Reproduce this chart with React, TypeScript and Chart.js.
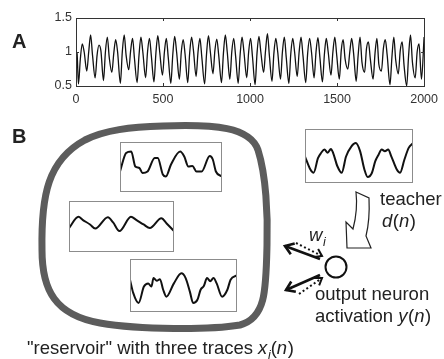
import React, { useEffect, useRef } from "react";
import { Chart, registerables } from "chart.js";
Chart.register(...registerables);

const FONT = '"Liberation Sans", Arial, Helvetica, sans-serif';

// Panel A: time series (time steps, values)
const seriesT = [
  0, 6,
  14, 25, 36, 47, 62, 73, 84, 95, 110, 121, 132, 143, 158, 169, 180, 191,
  206, 217, 228, 239, 255, 266, 277, 288, 303, 314, 325, 336, 351, 362, 373, 384,
  400, 411, 422, 433, 448, 459, 470, 481, 497, 508, 519, 530, 545, 556, 567, 578,
  594, 605, 616, 627, 642, 653, 664, 675, 690, 701, 712, 723, 739, 750, 761, 772,
  787, 798, 809, 820, 836, 847, 858, 869, 884, 895, 906, 917, 932, 943, 954, 965,
  981, 992, 1003, 1014, 1029, 1040, 1051, 1062, 1078, 1089, 1100, 1111, 1126, 1137, 1148, 1159,
  1175, 1186, 1197, 1208, 1223, 1234, 1245, 1256, 1271, 1282, 1293, 1304, 1320, 1331, 1342, 1353,
  1368, 1379, 1390, 1401, 1416, 1427, 1438, 1449, 1465, 1476, 1487, 1498, 1513, 1524, 1535, 1546,
  1562, 1573, 1584, 1595, 1610, 1621, 1632, 1643, 1658, 1669, 1680, 1691, 1707, 1718, 1729, 1740,
  1755, 1766, 1777, 1788, 1804, 1815, 1826, 1837, 1852, 1863, 1874, 1885, 1900, 1911, 1922, 1933,
  1949, 1960, 1971, 1985, 2000,
];
const seriesV = [
  1.0, 0.98,
  0.53, 0.9, 1.12, 1.0, 0.72, 1.0, 1.25, 0.95, 0.62, 0.95, 1.1, 1.02, 0.58, 1.0, 1.22, 0.92,
  0.7, 0.98, 1.18, 1.0, 0.54, 1.0, 1.25, 0.95, 0.74, 1.02, 1.2, 0.9, 0.55, 0.95, 1.22, 1.0,
  0.62, 1.0, 1.2, 0.94, 0.56, 0.98, 1.24, 1.0, 0.66, 1.0, 1.2, 0.92, 0.54, 0.96, 1.23, 1.0,
  0.6, 1.0, 1.18, 0.96, 0.55, 0.98, 1.22, 1.02, 0.64, 1.0, 1.2, 0.92, 0.53, 0.97, 1.24, 1.0,
  0.68, 1.02, 1.19, 0.95, 0.55, 0.98, 1.25, 1.0, 0.6, 1.0, 1.2, 0.94, 0.54, 0.96, 1.22, 1.0,
  0.62, 1.0, 1.2, 0.93, 0.52, 0.98, 1.23, 1.0, 0.7, 1.02, 1.27, 0.95, 0.57, 0.98, 1.2, 1.0,
  0.6, 1.0, 1.22, 0.92, 0.54, 0.97, 1.2, 1.0, 0.64, 1.0, 1.22, 0.95, 0.55, 0.98, 1.2, 1.0,
  0.62, 1.0, 1.21, 0.93, 0.56, 0.96, 1.2, 1.0, 0.66, 1.0, 1.22, 0.95, 0.6, 1.02, 1.18, 0.9,
  0.75, 1.0, 1.2, 0.98, 0.57, 0.95, 1.22, 0.85, 0.7, 1.05, 1.15, 0.9, 0.6, 0.98, 1.2, 0.82,
  0.72, 1.05, 1.18, 0.95, 0.52, 0.92, 1.22, 0.88, 0.68, 1.02, 1.15, 0.8, 0.5, 0.95, 1.25, 0.85,
  0.62, 1.0, 1.12, 0.6, 1.22,
];
const xTicks = [0, 500, 1000, 1500, 2000];
const yTicks = [0.5, 1, 1.5];

// Panel B traces (normalised time 0..1, normalised value 0..1)
const trace1T = [0, 0.06, 0.11, 0.15, 0.19, 0.22, 0.27, 0.34, 0.37, 0.42, 0.45, 0.5, 0.59, 0.63, 0.67, 0.71, 0.75, 0.8, 0.88, 0.91, 0.94, 1];
const trace1V = [0.41, 0.78, 0.81, 0.51, 0.48, 0.38, 0.41, 0.68, 0.68, 0.35, 0.31, 0.55, 0.81, 0.71, 0.51, 0.52, 0.41, 0.41, 0.72, 0.65, 0.41, 0.31];
const trace2T = [0, 0.09, 0.13, 0.2, 0.25, 0.37, 0.42, 0.48, 0.59, 0.64, 0.71, 0.77, 0.88, 0.93, 1];
const trace2V = [0.47, 0.69, 0.63, 0.54, 0.46, 0.68, 0.58, 0.41, 0.69, 0.63, 0.54, 0.47, 0.66, 0.56, 0.41];
const trace3T = [0, 0.03, 0.08, 0.13, 0.17, 0.2, 0.22, 0.25, 0.28, 0.31, 0.34, 0.41, 0.48, 0.52, 0.56, 0.59, 0.63, 0.66, 0.69, 0.72, 0.75, 0.78, 0.81, 0.86, 0.91, 0.94, 1];
const trace3V = [0.61, 0.36, 0.17, 0.48, 0.54, 0.48, 0.64, 0.59, 0.62, 0.42, 0.29, 0.54, 0.73, 0.64, 0.38, 0.17, 0.23, 0.42, 0.49, 0.64, 0.58, 0.64, 0.54, 0.29, 0.42, 0.61, 0.69];
const teacherT = [0, 0.05, 0.08, 0.12, 0.15, 0.18, 0.21, 0.24, 0.26, 0.3, 0.34, 0.38, 0.43, 0.47, 0.51, 0.55, 0.58, 0.62, 0.65, 0.68, 0.71, 0.74, 0.77, 0.8, 0.85, 0.88, 0.92, 0.96, 1];
const teacherV = [0.49, 0.25, 0.19, 0.46, 0.56, 0.62, 0.56, 0.63, 0.56, 0.31, 0.19, 0.49, 0.68, 0.74, 0.59, 0.25, 0.11, 0.19, 0.4, 0.52, 0.62, 0.59, 0.62, 0.49, 0.25, 0.19, 0.43, 0.65, 0.74];

const miniBoxes = [
  { key: "t1", left: 120, top: 142, width: 102, height: 50, t: trace1T, v: trace1V },
  { key: "t2", left: 69, top: 201, width: 105, height: 51, t: trace2T, v: trace2V },
  { key: "t3", left: 130, top: 259, width: 107, height: 53, t: trace3T, v: trace3V },
  { key: "td", left: 305, top: 129, width: 108, height: 54, t: teacherT, v: teacherV },
];

type Part = [string, string];
function rich(ctx: CanvasRenderingContext2D, x: number, y: number, parts: Part[], size: number) {
  let cx = x;
  for (const [txt, st] of parts) {
    const it = st.includes("i");
    const sub = st.includes("s");
    const fs = sub ? size * 0.68 : size;
    ctx.font = `${it ? "italic " : ""}${fs}px ${FONT}`;
    ctx.fillText(txt, cx, y + (sub ? size * 0.28 : 0));
    cx += ctx.measureText(txt).width + (it && !sub ? size * 0.03 : 0);
  }
}

function arrow(ctx: CanvasRenderingContext2D, x1: number, y1: number, x2: number, y2: number, dashed: boolean, lw: number) {
  ctx.save();
  ctx.strokeStyle = "#111";
  ctx.lineWidth = lw;
  ctx.lineCap = "butt";
  if (dashed) ctx.setLineDash([2, 2.5]);
  ctx.beginPath();
  ctx.moveTo(x1, y1);
  ctx.lineTo(x2, y2);
  ctx.stroke();
  ctx.setLineDash([]);
  const a = Math.atan2(y2 - y1, x2 - x1);
  const L = dashed ? 8 : 10;
  ctx.lineWidth = dashed ? 2 : lw;
  ctx.beginPath();
  ctx.moveTo(x2 - L * Math.cos(a - 0.6), y2 - L * Math.sin(a - 0.6));
  ctx.lineTo(x2, y2);
  ctx.lineTo(x2 - L * Math.cos(a + 0.6), y2 - L * Math.sin(a + 0.6));
  ctx.stroke();
  ctx.restore();
}

const axesPlugin = {
  id: "axesBox",
  afterDatasetsDraw(chart: any) {
    const { ctx, chartArea: ca, scales } = chart;
    ctx.save();
    ctx.strokeStyle = "#333";
    ctx.lineWidth = 1;
    ctx.strokeRect(Math.round(ca.left) + 0.5, Math.round(ca.top) + 0.5, Math.round(ca.right - ca.left), Math.round(ca.bottom - ca.top));
    ctx.beginPath();
    for (const v of xTicks) {
      const px = Math.round(scales.x.getPixelForValue(v)) + 0.5;
      ctx.moveTo(px, ca.bottom); ctx.lineTo(px, ca.bottom - 3);
      ctx.moveTo(px, ca.top); ctx.lineTo(px, ca.top + 3);
    }
    for (const v of yTicks) {
      const py = Math.round(scales.y.getPixelForValue(v)) + 0.5;
      ctx.moveTo(ca.left, py); ctx.lineTo(ca.left + 3, py);
      ctx.moveTo(ca.right, py); ctx.lineTo(ca.right - 3, py);
    }
    ctx.stroke();
    ctx.restore();
  },
};

const diagramPlugin = {
  id: "diagram",
  afterDraw(chart: any) {
    const ctx: CanvasRenderingContext2D = chart.ctx;
    ctx.save();
    // reservoir blob
    ctx.strokeStyle = "#5c5c5c";
    ctx.lineWidth = 7;
    ctx.beginPath();
    ctx.moveTo(163, 126);
    ctx.bezierCurveTo(215, 124, 250, 127, 258, 150);
    ctx.bezierCurveTo(266, 175, 268, 215, 267, 245);
    ctx.bezierCurveTo(266, 290, 266, 318, 240, 325);
    ctx.bezierCurveTo(210, 330, 140, 330, 100, 323);
    ctx.bezierCurveTo(55, 315, 42, 290, 42, 250);
    ctx.bezierCurveTo(41, 195, 48, 160, 85, 140);
    ctx.bezierCurveTo(105, 130, 130, 127, 163, 126);
    ctx.closePath();
    ctx.stroke();

    // teacher hollow arrow
    ctx.strokeStyle = "#222";
    ctx.fillStyle = "#fff";
    ctx.lineWidth = 1.2;
    ctx.beginPath();
    ctx.moveTo(356, 192);
    ctx.lineTo(369, 198);
    ctx.quadraticCurveTo(370, 220, 366, 236);
    ctx.lineTo(371, 248);
    ctx.lineTo(347, 248);
    ctx.lineTo(346, 222);
    ctx.lineTo(353, 229);
    ctx.quadraticCurveTo(358, 210, 356, 192);
    ctx.closePath();
    ctx.fill();
    ctx.stroke();

    // output neuron
    ctx.lineWidth = 2;
    ctx.strokeStyle = "#111";
    ctx.beginPath();
    ctx.arc(336, 267, 10.5, 0, Math.PI * 2);
    ctx.stroke();

    // arrows
    arrow(ctx, 320, 259, 285, 246, false, 2.6);
    arrow(ctx, 296, 243, 322, 256, true, 2);
    arrow(ctx, 320, 275, 286, 290, false, 2.6);
    arrow(ctx, 299, 294, 322, 278, true, 2);

    // text
    ctx.fillStyle = "#222";
    ctx.textBaseline = "alphabetic";
    ctx.textAlign = "left";
    ctx.font = `bold 20px ${FONT}`;
    ctx.fillText("A", 12, 48);
    ctx.fillText("B", 12, 143);
    rich(ctx, 380, 205, [["teacher", ""]], 18.5);
    rich(ctx, 382, 227, [["d", "i"], ["(", ""], ["n", "i"], [")", ""]], 18.5);
    rich(ctx, 309, 241, [["w", "i"], ["i", "is"]], 18.5);
    rich(ctx, 315, 300, [["output neuron", ""]], 18.5);
    rich(ctx, 315, 322, [["activation ", ""], ["y", "i"], ["(", ""], ["n", "i"], [")", ""]], 18.5);
    rich(ctx, 27, 354, [['"reservoir" with three traces ', ""], ["x", "i"], ["i", "is"], ["(", ""], ["n", "i"], [")", ""]], 18.5);
    ctx.restore();
  },
};

const miniBorder = {
  id: "miniBorder",
  afterDraw(chart: any) {
    const { ctx, width, height } = chart;
    ctx.save();
    ctx.strokeStyle = "#8c8c8c";
    ctx.lineWidth = 1;
    ctx.strokeRect(0.5, 0.5, width - 1, height - 1);
    ctx.restore();
  },
};

function MiniPlot({ box }: { box: any }) {
  const ref = useRef<HTMLCanvasElement>(null);
  useEffect(() => {
    if (!ref.current) return;
    const ch = new Chart(ref.current, {
      type: "line",
      data: {
        datasets: [
          {
            data: box.t.map((t: number, i: number) => ({ x: t, y: box.v[i] })),
            borderColor: "#111",
            borderWidth: 2,
            pointRadius: 0,
            cubicInterpolationMode: "monotone",
            fill: false,
          },
        ],
      },
      options: {
        animation: false,
        responsive: false,
        maintainAspectRatio: false,
        layout: { padding: 0 },
        plugins: { legend: { display: false }, tooltip: { enabled: false } },
        scales: {
          x: { type: "linear", min: 0, max: 1, display: false },
          y: { type: "linear", min: 0, max: 1, display: false },
        },
      },
      plugins: [miniBorder],
    } as any);
    return () => ch.destroy();
  }, []);
  return (
    <canvas
      ref={ref}
      width={box.width}
      height={box.height}
      style={{ position: "absolute", left: box.left, top: box.top, width: box.width, height: box.height }}
    />
  );
}

export default function App() {
  const ref = useRef<HTMLCanvasElement>(null);
  useEffect(() => {
    document.body.style.margin = "0";
    if (!ref.current) return;
    const ch = new Chart(ref.current, {
      type: "line",
      data: {
        datasets: [
          {
            data: seriesT.map((t, i) => ({ x: t, y: seriesV[i] })),
            borderColor: "#111",
            borderWidth: 1.3,
            pointRadius: 0,
            cubicInterpolationMode: "monotone",
            fill: false,
          },
        ],
      },
      options: {
        animation: false,
        responsive: false,
        maintainAspectRatio: false,
        layout: { padding: { left: 0, top: 18, right: 16, bottom: 249 } },
        plugins: { legend: { display: false }, tooltip: { enabled: false } },
        scales: {
          x: {
            type: "linear",
            min: 0,
            max: 2000,
            afterBuildTicks: (s: any) => {
              s.ticks = xTicks.map((v) => ({ value: v }));
            },
            afterFit: (s: any) => {
              s.height = 24;
            },
            grid: { display: false, drawTicks: false },
            border: { display: false },
            ticks: { font: { family: FONT, size: 12.5 }, color: "#333", padding: 6, maxRotation: 0, autoSkip: false, callback: (v: any) => String(v) },
          },
          y: {
            type: "linear",
            min: 0.5,
            max: 1.5,
            afterBuildTicks: (s: any) => {
              s.ticks = yTicks.map((v) => ({ value: v }));
            },
            afterFit: (s: any) => {
              s.width = 76;
            },
            grid: { display: false, drawTicks: false },
            border: { display: false },
            ticks: { font: { family: FONT, size: 12.5 }, color: "#333", padding: 4, callback: (v: any) => String(v) },
          },
        },
      },
      plugins: [axesPlugin, diagramPlugin],
    } as any);
    return () => ch.destroy();
  }, []);
  return (
    <div style={{ position: "relative", width: 444, height: 359, background: "#fff", overflow: "hidden" }}>
      <canvas ref={ref} width={444} height={359} style={{ position: "absolute", left: 0, top: 0, width: 444, height: 359 }} />
      {miniBoxes.map((b) => (
        <MiniPlot key={b.key} box={b} />
      ))}
    </div>
  );
}
